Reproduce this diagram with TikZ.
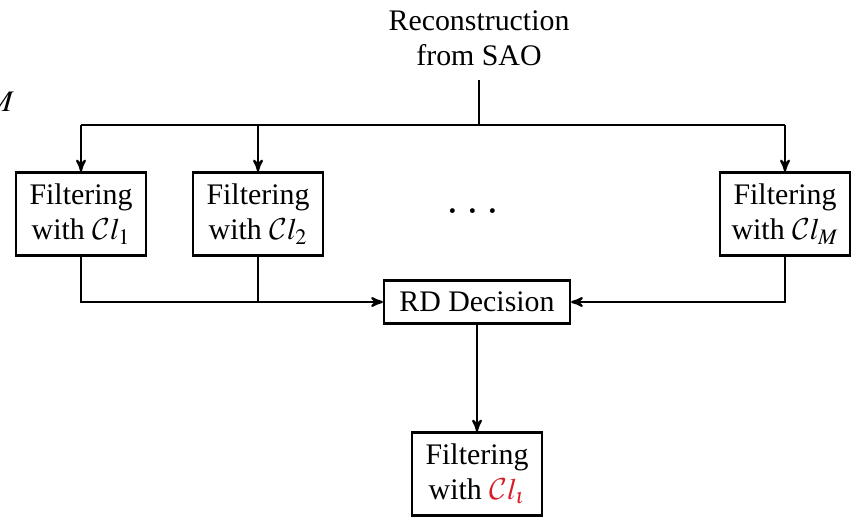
\documentclass[tikz,border=0pt]{standalone}
\usepackage{mathptmx}
\DeclareMathAlphabet{\mathcal}{OMS}{cmsy}{m}{n}
\usepackage{fontspec}
\setmainfont{Liberation Serif}
\usetikzlibrary{arrows}
\definecolor{selred}{RGB}{215,30,40}
\tikzset{
  base/.style = {align=center, font=\fontsize{17}{20}\selectfont},
  filt/.style = {base, draw=black, line width=1.3pt, inner sep=2pt,
    minimum width=2.6cm, minimum height=1.66cm},% filtering box
  rd/.style = {base, draw=black, line width=1.3pt, inner sep=2pt,
    minimum width=3.72cm, minimum height=0.86cm}% decision box
}
\begin{document}
\begin{tikzpicture}[x=0.02cm, y=-0.02cm, >=stealth', line width=1.3pt]
  \useasboundingbox (0,0) rectangle (862,520);
  \node [base, inner sep=0pt] (stray) at (1,102) {$M$};
  \node [base] (src) at (479,38) {Reconstruction\\from SAO};
  \coordinate (split) at (479,125);
  \node [filt] (f1) at (81,214) {Filtering\\with $\mathcal{C}l_1$};
  \node [filt] (f2) at (258,214) {Filtering\\with $\mathcal{C}l_2$};
  \node [base, font=\fontsize{26}{30}\selectfont] (dots) at (473,213)
    {${\cdot}\mkern3mu{\cdot}\mkern3mu{\cdot}$};
  \node [filt] (fM) at (785,214) {Filtering\\with $\mathcal{C}l_M$};
  \node [rd] (rd) at (477,302) {RD Decision};
  \node [filt] (out) at (477,474) {Filtering\\with \textcolor{selred}{$\mathcal{C}l_\iota$}};
  % fan out
  \draw [shorten <=4pt] (src) -- (split);
  \draw (split) -- (split -| f1.north) -- (split -| fM.north);
  \draw [->] (split -| f1.north) -- (f1);
  \draw [->] (split -| f2.north) -- (f2);
  \draw [->] (split -| fM.north) -- (fM);
  % gather
  \draw [->] (f1) |- (rd);
  \draw (f2) -- (f2 |- rd);
  \draw [->] (fM) |- (rd);
  \draw [->] (rd) -- (out);
\end{tikzpicture}
\end{document}
